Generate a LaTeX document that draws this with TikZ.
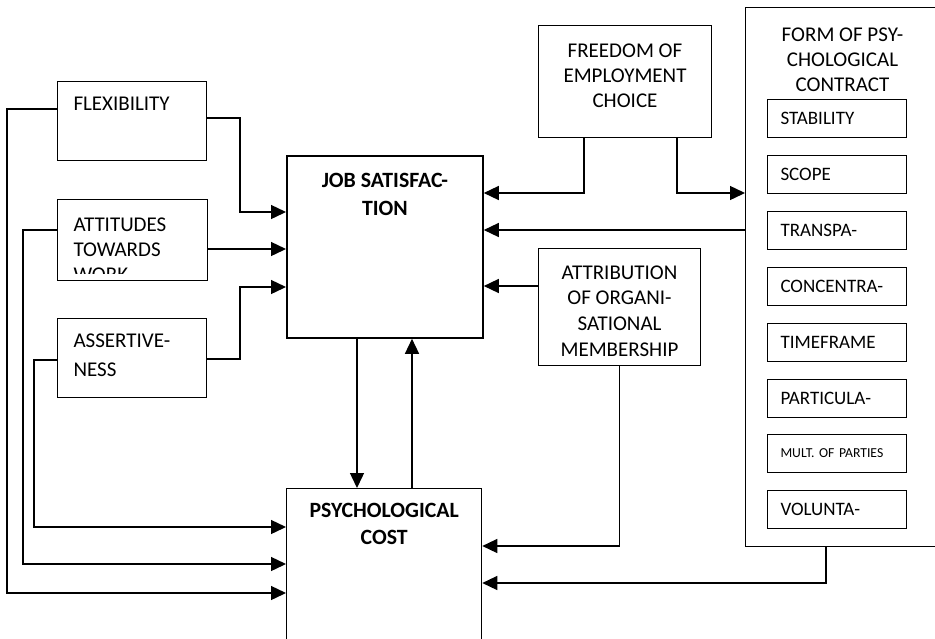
\documentclass[tikz,border=0pt]{standalone}
\usepackage{fontspec}
\setmainfont{Carlito}
\usetikzlibrary{arrows.meta}
\tikzset{
	box/.style={draw, line width=1pt, inner sep=0pt, anchor=north west},
	sub/.style={draw, line width=1pt, anchor=north west, inner xsep=13pt, inner ysep=0pt, text width=113pt, minimum height=38pt, align=left, font=\fontsize{19}{23}\selectfont},
	arr/.style={line width=1.4pt, -{Triangle[length=15pt,width=14pt]}},
}
\newcommand{\topbox}[4]{\parbox[c][#2pt][t]{#1pt}{\vspace*{#3pt}#4}}
\newcommand{\lefttxt}{\raggedright\leftskip=16pt }
\newcommand{\boldtxt}{\centering\fontsize{21.8}{25}\selectfont\bfseries }
\begin{document}
\begin{tikzpicture}[x=1pt,y=-1pt,font=\fontsize{21}{25}\selectfont]
				\useasboundingbox (0,0) rectangle (935,638);
				\node[box] (flex) at (57,81) {\topbox{149}{79}{16}{\lefttxt FLEXIBILITY}};
				\begin{scope}
				\clip (0,0) rectangle (935,273);
				\node[box,draw=none] (att) at (57,199) {\topbox{149}{80}{18}{\lefttxt ATTITUDES\\TOWARDS\\WORK}};
				\end{scope}
				\draw[line width=1pt] (att.north west) rectangle (att.south east);
				\node[box] (ass) at (57,318) {\topbox{149}{79}{15}{\lefttxt ASSERTIVE-\\[4pt]NESS}};
				\node[box,line width=1.8pt] (js) at (286,155) {\topbox{196}{182}{17}{\boldtxt JOB SATISFAC-\\[3pt]TION}};
				\node[box,line width=1.3pt] (pc) at (286,488) {\topbox{195}{200}{15}{\boldtxt PSYCHOLOGICAL\\[2pt]COST}};
				\node[box] (free) at (538,25) {\topbox{173}{112}{18}{\centering FREEDOM OF\\EMPLOYMENT\\CHOICE}};
				\node[box] (attr) at (538,248) {\topbox{162}{117}{17}{\centering ATTRIBUTION\\[0.7pt]OF ORGANI-\\[0.7pt]SATIONAL\\[0.7pt]MEMBERSHIP}};
				\node[box] (form) at (745,7) {\topbox{194}{539}{20}{\centering FORM OF PSY-\\CHOLOGICAL\\CONTRACT}};
				\node[sub] (stab) at (767,99) {STABILITY};
				\node[sub] (scope) at (767,155) {SCOPE};
				\node[sub] (transp) at (767,211) {TRANSPA-};
				\node[sub] (conc) at (767,267) {CONCENTRA-};
				\node[sub] (time) at (767,323) {TIMEFRAME};
				\node[sub] (part) at (767,379) {PARTICULA-};
				\node[sub,font=\fontsize{13.7}{16}\selectfont] (mult) at (767,434) {MULT. OF PARTIES};
				\node[sub] (vol) at (767,490) {VOLUNTA-};
				% into job satisfaction
				\draw[arr] (flex.east |- 0,118) -| (240,212) -- (js.west |- 0,212);
				\draw[arr] (att.east |- 0,249) -- (js.west |- 0,249);
				\draw[arr] (ass.east |- 0,359) -| (240,287) -- (js.west |- 0,287);
				\draw[arr] (free.south -| 584,0) |- (js.east |- 0,193);
				\draw[arr] (free.south -| 677,0) |- (form.west |- 0,193);
				\draw[arr] (form.west |- 0,230) -- (js.east |- 0,230);
				\draw[arr] (attr.west |- 0,286) -- (js.east |- 0,286);
				\draw[arr] (js.south -| 357,0) -- (pc.north -| 357,0);
				\draw[arr] (pc.north -| 412,0) -- (js.south -| 412,0);
				% into psychological cost
				\draw[arr] (attr.south) |- (pc.east |- 0,546);
				\draw[arr] (form.south -| 826,0) |- (pc.east |- 0,583);
				\draw[arr] (ass.west |- 0,360) -| (34,527) -- (pc.west |- 0,527);
				\draw[arr] (att.west |- 0,230) -| (23,564) -- (pc.west |- 0,564);
				\draw[arr] (flex.west |- 0,109) -| (7,593) -- (pc.west |- 0,593);
\end{tikzpicture}
\end{document}
